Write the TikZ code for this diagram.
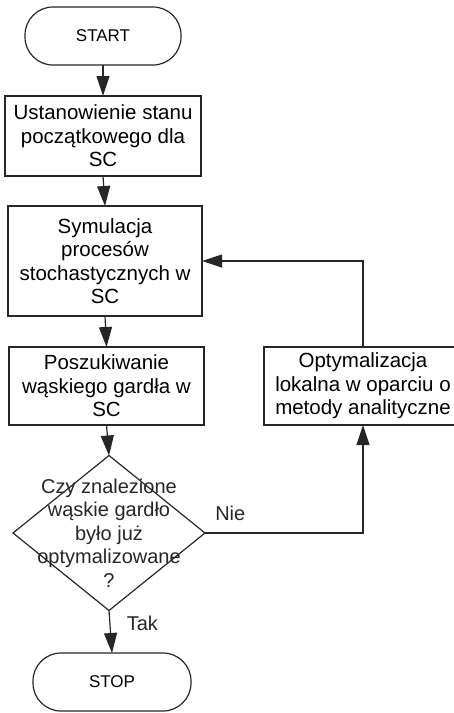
\documentclass[tikz,border=0pt]{standalone}
\usepackage{fontspec}
\setmainfont{Liberation Sans}
\usetikzlibrary{shapes.geometric,arrows.meta}

\begin{document}
\begin{tikzpicture}[x=1pt,y=-1pt,
    line/.style={draw=black!85,line width=1.2pt},
    arr/.style={line,-{Triangle[length=20pt,width=13pt]}},
    terminal/.style={line,rounded corners=28pt,minimum width=156pt,minimum height=58pt,
        inner sep=0pt,outer sep=0pt,font=\fontsize{17}{20}\selectfont},
    process/.style={line,align=center,inner sep=0pt,outer sep=0pt,
        font=\fontsize{20.5}{23.5}\selectfont},
    decision/.style={line,diamond,minimum width=192pt,minimum height=155pt,
        inner sep=0pt,outer sep=0pt},
    lbl/.style={font=\fontsize{20}{23.5}\selectfont,text=black!85}]
    \useasboundingbox (0,0) rectangle (454,713);

    % Start and main chain
    \node[terminal] (start) at (103,36) {START};
    \node[process,minimum width=196pt,minimum height=80pt] (init) at (103,136)
        {Ustanowienie stanu\\początkowego dla\\SC};
    \node[process,minimum width=194pt,minimum height=110pt] (sym) at (105,261)
        {Symulacja\\procesów\\stochastycznych w\\SC};
    \node[process,minimum width=195pt,minimum height=78pt] (find) at (106.5,386)
        {Poszukiwanie\\wąskiego gardła w\\SC};
    \node[process,minimum width=198pt,minimum height=78pt] (opt) at (363,386)
        {Optymalizacja\\lokalna w oparciu o\\metody analityczne};

    % Decision
    \node[decision] (check) at (109,533) {};
    \node[lbl,align=center] (checktext) at (check)
        {Czy znalezione\\wąskie gardło\\było już\\optymalizowane\\?};

    \node[terminal,minimum width=158pt] (stop) at (112,682) {STOP};

    % Connectors
    \draw[arr] (start.south) -- (init.north);
    \draw[arr] (init.south) -- (sym.north);
    \draw[arr] (sym.south) -- (find.north);
    \draw[arr] (find.south) -- (check.north);
    \draw[arr] (check.south) -- node[lbl,pos=0.3,right=13pt] (tak) {Tak} (stop.north);
    \draw[arr] (check.east) -| node[lbl,pos=0.08,above=8pt] (nie) {Nie} (opt.south);
    \draw[arr] (opt.north) |- (sym.east);
\end{tikzpicture}
\end{document}
